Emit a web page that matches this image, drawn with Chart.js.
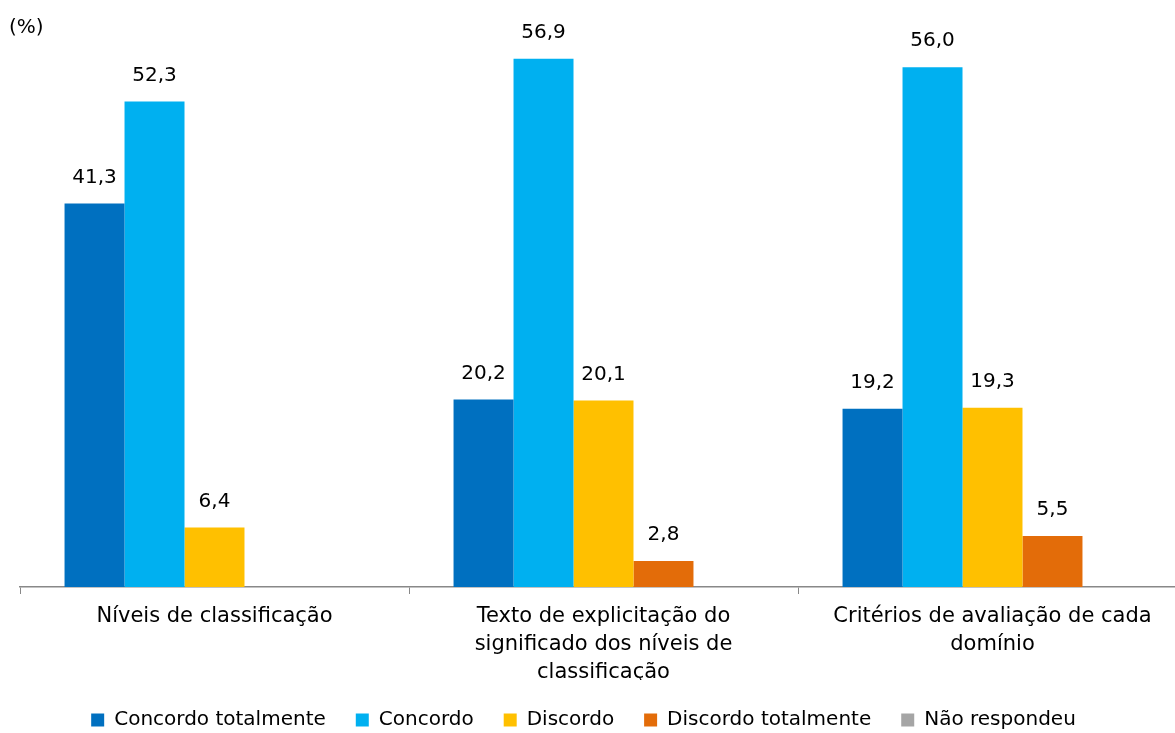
<!DOCTYPE html>
<html>
<head>
<meta charset="utf-8">
<script src="https://cdn.jsdelivr.net/npm/chart.js@4.4.1/dist/chart.umd.min.js"></script>
<style>
  html, body { margin: 0; padding: 0; background: #fff; overflow: hidden; }
  #wrap { width: 1190px; height: 740px; }
</style>
</head>
<body>
<div id="wrap"><canvas id="chart"></canvas></div>
<script>
// -------------------------------------------------------------
// Data
// -------------------------------------------------------------
const categories = [
  'Níveis de classificação',
  ['Texto de explicitação do', 'significado dos níveis de', 'classificação'],
  ['Critérios de avaliação de cada', 'domínio']
];
const seriesNames = ['Concordo totalmente', 'Concordo', 'Discordo', 'Discordo totalmente', 'Não respondeu'];
const concordoTotalmente = [41.3, 20.2, 19.2];
const concordo = [52.3, 56.9, 56.0];
const discordo = [6.4, 20.1, 19.3];
const discordoTotalmente = [null, 2.8, 5.5];
const naoRespondeu = [null, null, null];
const yTicks = [0, 10, 20, 30, 40, 50, 60];

const colors = ['#0070C0', '#00B0F0', '#FFC000', '#E36C09', '#A5A5A5'];
const FONT = 'DejaVu Sans';

// -------------------------------------------------------------
// Plugins: value labels above bars, "(%)" caption, legend shift
// -------------------------------------------------------------
const valueLabels = {
  id: 'valueLabels',
  afterDatasetsDraw(chart) {
    const ctx = chart.ctx;
    ctx.save();
    ctx.font = `20px "${FONT}"`;
    ctx.fillStyle = '#000';
    ctx.textAlign = 'center';
    ctx.textBaseline = 'middle';
    chart.data.datasets.forEach((ds, i) => {
      const meta = chart.getDatasetMeta(i);
      meta.data.forEach((bar, j) => {
        const v = ds.data[j];
        if (v === null || v === undefined) return;
        ctx.fillText(v.toFixed(1).replace('.', ','), bar.x, bar.y - 26);
      });
    });
    ctx.restore();
  }
};

const unitCaption = {
  id: 'unitCaption',
  afterDraw(chart) {
    const ctx = chart.ctx;
    ctx.save();
    ctx.font = `20px "${FONT}"`;
    ctx.fillStyle = '#000';
    ctx.textAlign = 'left';
    ctx.textBaseline = 'middle';
    ctx.fillText('(%)', 9, 28);
    ctx.restore();
  }
};

// legend in the original sits a bit left of the canvas centre
const legendShift = {
  id: 'legendShift',
  afterLayout(chart) {
    if (!chart.legend) return;
    chart.legend.left -= 20;
    chart.legend.right -= 20;
  }
};

// -------------------------------------------------------------
// Chart
// -------------------------------------------------------------
const seriesValues = [concordoTotalmente, concordo, discordo, discordoTotalmente, naoRespondeu];

new Chart(document.getElementById('chart'), {
  type: 'bar',
  data: {
    labels: categories,
    datasets: seriesNames.map((name, i) => ({
      label: name,
      data: seriesValues[i],
      backgroundColor: colors[i],
      borderWidth: 0,
      barPercentage: 1,
      categoryPercentage: 0.771
    }))
  },
  options: {
    responsive: true,
    maintainAspectRatio: false,
    animation: false,
    layout: { padding: { top: 30, left: 20, right: 3, bottom: 0 } },
    plugins: {
      legend: {
        position: 'bottom',
        labels: {
          boxWidth: 13,
          boxHeight: 13,
          padding: 30,
          color: '#000',
          font: { family: FONT, size: 20 }
        }
      },
      tooltip: { enabled: false }
    },
    scales: {
      x: {
        afterFit: (scale) => { scale.height = 93; },
        grid: {
          offset: true,
          drawOnChartArea: false,
          drawTicks: true,
          tickLength: 7,
          color: '#888'
        },
        border: { display: true, color: '#888', width: 1.5 },
        ticks: {
          color: '#000',
          padding: 9,
          maxRotation: 0,
          autoSkip: false,
          font: { family: FONT, size: 21, lineHeight: 1.333 }
        }
      },
      y: {
        display: false,
        min: yTicks[0],
        max: yTicks[yTicks.length - 1]
      }
    }
  },
  plugins: [valueLabels, unitCaption, legendShift]
});
</script>
</body>
</html>
